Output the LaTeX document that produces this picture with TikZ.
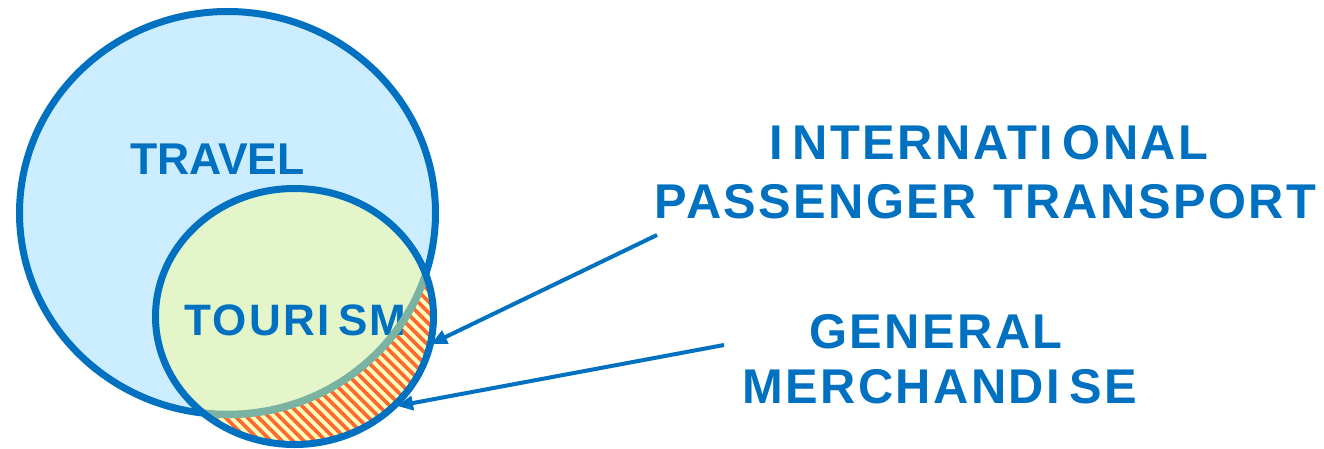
\documentclass[tikz,border=0pt]{standalone}
\usepackage{fontspec}
\setmainfont{Liberation Sans}
\newfontfamily\lblfont[LetterSpace=5]{Liberation Sans}
\usetikzlibrary{arrows.meta}
\definecolor{vblue}{HTML}{0070C0}
\definecolor{travelfill}{HTML}{CCECFF}
\definecolor{tourfill}{HTML}{E4F5CA}
\definecolor{bandcol}{HTML}{7BB3A3}
\definecolor{hatchbg}{HTML}{FFFFBE}
\definecolor{hatchfg}{HTML}{FF6A33}
\newcommand\Ik{\kern0.2em}
\begin{document}
\begin{tikzpicture}[x=1pt,y=-1pt,
  lbl/.style={text=vblue, font=\lblfont\bfseries\fontsize{48.8}{56}\selectfont, anchor=base, inner sep=0pt},
  biglbl/.style={text=vblue, font=\bfseries\fontsize{44.5}{52}\selectfont, anchor=base, inner sep=0pt},
  tourlbl/.style={text=vblue, font=\lblfont\bfseries\fontsize{44}{52}\selectfont, anchor=base, inner sep=0pt},
  ring/.style={vblue, line width=7pt},
  pointer/.style={vblue, line width=4pt, -{Triangle[length=16pt,width=14pt]}}]
\useasboundingbox (0,0) rectangle (1324,449);
% TRAVEL circle
\fill[travelfill] (227.5,213) ellipse (208pt and 201.5pt);
\draw[ring] (227.5,213) ellipse (208pt and 201.5pt);
% TOURISM circle contents
\begin{scope}
  \clip (294.5,316.5) ellipse (139pt and 128pt);
  \fill[hatchbg] (140,170) rectangle (450,460);
  \foreach \i in {-14,...,42} \draw[hatchfg, line width=3.6pt] (\i*11,170) -- ++(300,300);
  \fill[tourfill] (227.5,213) ellipse (208pt and 201.5pt);
\end{scope}
\node[tourlbl] (tourism) at (295.5,335) {TOURI\Ik SM};
\begin{scope}
  \clip (294.5,316.5) ellipse (139pt and 128pt);
  \draw[bandcol, line width=7.5pt] (227.5,213) ellipse (208pt and 201.5pt);
\end{scope}
\draw[ring] (294.5,316.5) ellipse (139pt and 128pt);
\node[biglbl] (travel) at (217.5,175) {TRAVEL};
% right labels
\node[lbl] (intl) at (989,160) {I\Ik NTERNATI\Ik ONAL};
\node[lbl] (pass) at (985.5,218) {PASSENGER TRANSPORT};
\node[lbl] (gen) at (936,348) {GENERAL};
\node[lbl] (merch) at (940,403) {MERCHANDI\Ik SE};
% pointers
\coordinate (p1) at (657,235);
\coordinate (t1) at (431,344);
\coordinate (p2) at (724,345);
\coordinate (t2) at (397,406);
\draw[pointer] (p1) -- (t1);
\draw[pointer] (p2) -- (t2);
\end{tikzpicture}
\end{document}
